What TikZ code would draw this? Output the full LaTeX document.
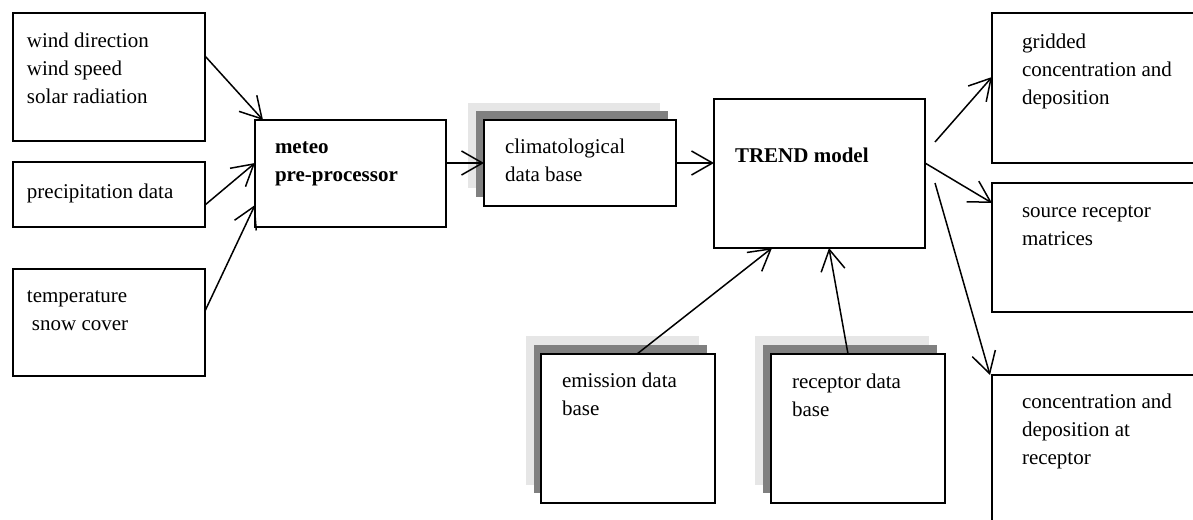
\documentclass[tikz,border=0pt]{standalone}
\usepackage{fontspec}
\setmainfont{Liberation Serif}
\usetikzlibrary{arrows.meta,calc}
\definecolor{shlight}{HTML}{E6E6E6}
\definecolor{shdark}{HTML}{808080}
\tikzset{
  box/.style={draw, line width=1.7pt, fill=white, inner sep=0pt, outer sep=0pt, anchor=north west},
  txt/.style={inner sep=0pt, outer sep=0pt, anchor=base west, align=left, font=\fontsize{21}{28}\selectfont},
  btxt/.style={txt, font=\fontsize{21}{28}\selectfont\bfseries},
  conn/.style={line width=1.5pt, -{Straight Barb[length=21pt,width=24pt,line width=1.5pt]}},
}
\begin{document}
\begin{tikzpicture}[x=1pt,y=-1pt]
\useasboundingbox (0,0) rectangle (1193,519);
\clip (0,0) rectangle (1193,519);
% shadows
\fill[shlight] (468,103) rectangle (660,188);
\fill[shdark] (476,111) rectangle (668,197);
\fill[shlight] (526,336) rectangle (699,485);
\fill[shdark] (534,345) rectangle (707,493);
\fill[shlight] (755,336) rectangle (929,485);
\fill[shdark] (763,345) rectangle (937,493);
% boxes
\node[box, minimum width=192pt, minimum height=128pt] (wind) at (13,13) {};
\node[box, minimum width=192pt, minimum height=65pt] (precip) at (13,162) {};
\node[box, minimum width=192pt, minimum height=107pt] (temp) at (13,269) {};
\node[box, minimum width=191pt, minimum height=107pt] (meteo) at (255,120) {};
\node[box, minimum width=192pt, minimum height=86pt] (clim) at (484,120) {};
\node[box, minimum width=211pt, minimum height=149pt] (trend) at (714,99) {};
\node[box, minimum width=250pt, minimum height=150pt] (grid) at (992,13) {};
\node[box, minimum width=250pt, minimum height=129pt] (source) at (992,183) {};
\node[box, minimum width=250pt, minimum height=200pt] (conc) at (992,375) {};
\node[box, minimum width=174pt, minimum height=149pt] (emis) at (541,354) {};
\node[box, minimum width=174pt, minimum height=149pt] (recep) at (771,354) {};
% texts (anchor = baseline of the last line)
\node[txt] (windtxt) at ($(wind.north west)+(14,90)$) {wind direction\\wind speed\\solar radiation};
\node[txt] (preciptxt) at ($(precip.north west)+(14,36)$) {precipitation data};
\node[txt] (temptxt) at ($(temp.north west)+(14,61)$) {temperature\\\hspace*{5pt}snow cover};
\node[btxt] (meteotxt) at ($(meteo.north west)+(20,61)$) {meteo\\pre-processor};
\node[txt] (climtxt) at ($(clim.north west)+(21,61)$) {climatological\\data base};
\node[btxt] (trendtxt) at ($(trend.north west)+(21,63)$) {TREND model};
\node[txt] (gridtxt) at ($(grid.north west)+(30,91)$) {gridded\\concentration and\\deposition};
\node[txt] (sourcetxt) at ($(source.north west)+(30,62)$) {source receptor\\matrices};
\node[txt] (conctxt) at ($(conc.north west)+(30,89)$) {concentration and\\deposition at\\receptor};
\node[txt] (emistxt) at ($(emis.north west)+(21,61)$) {emission data\\base};
\node[txt] (receptxt) at ($(recep.north west)+(21,62)$) {receptor data\\base};
% connectors
\draw[conn] ($(wind.north east)+(0,43)$) -- ($(meteo.north west)+(8,0)$);
\draw[conn] ($(precip.south east)+(0,-22)$) -- ($(meteo.west)+(0,-10.5)$);
\draw[conn] ($(temp.north east)+(0,42)$) -- ($(meteo.west)+(0,31.5)$);
\draw[conn] (meteo.east |- clim.west) -- (clim.west);
\draw[conn] (clim.east) -- (clim.east -| trend.west);
\draw[conn] ($(trend.north east)+(10,43)$) -- ($(grid.north west)+(0,64)$);
\draw[conn] ($(trend.east)+(0,-10.5)$) -- ($(source.north west)+(0,20)$);
\draw[conn] ($(trend.east)+(10,9.5)$) -- ($(conc.north west)+(-2,0)$);
\draw[conn] ($(emis.north west)+(96,0)$) -- ($(trend.south west)+(58,0)$);
\draw[conn] ($(recep.north west)+(77,0)$) -- ($(trend.south west)+(115,0)$);
\end{tikzpicture}
\end{document}
